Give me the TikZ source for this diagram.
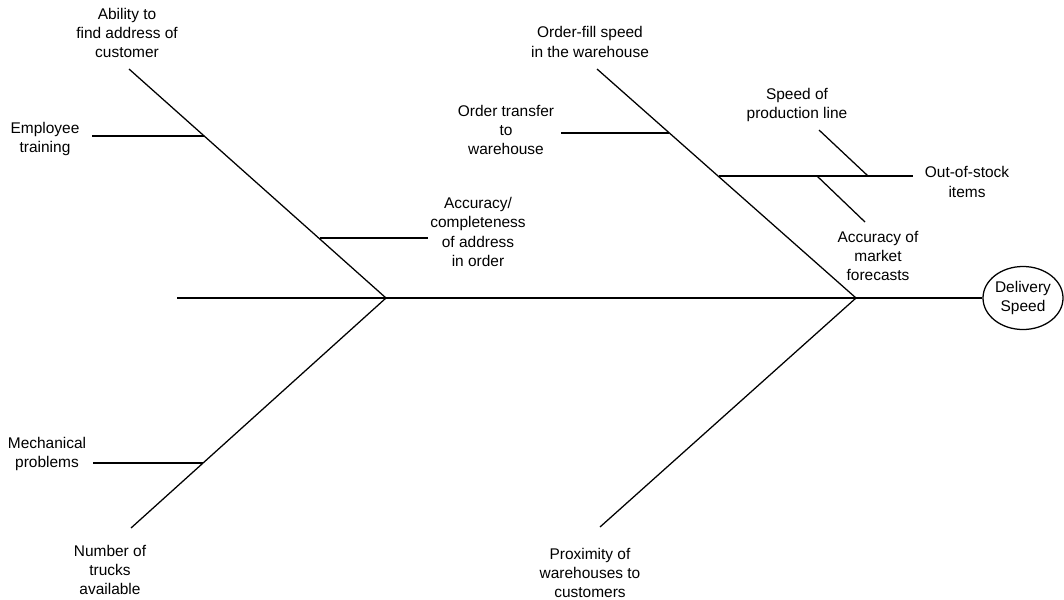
\documentclass[tikz,border=0pt]{standalone}
\usepackage{fontspec}
\setmainfont{Liberation Sans}
\usetikzlibrary{shapes.geometric}
\tikzset{
  bone/.style={line width=0.9pt},
  cause/.style={align=center,inner sep=0pt,font=\fontsize{11}{13.6}\selectfont},
  effectbox/.style={draw,ellipse,line width=0.9pt,minimum width=2cm,minimum height=1.575cm,inner sep=0pt,align=center,font=\fontsize{11}{13.6}\selectfont}
}
\begin{document}
\begin{tikzpicture}[x=0.025cm,y=-0.025cm]
\useasboundingbox (0,0) rectangle (1064,599);
% head and spine
\node[effectbox] (effect) at (1023,298) {Delivery\\Speed};
\coordinate (tail) at (177,298);
\coordinate (jl) at (386,298);
\coordinate (jr) at (856,298);
\draw[bone] (tail)--(jr)--(effect.west);
% main bones
\coordinate (ul) at (129,69);
\coordinate (ll) at (131,528);
\coordinate (ur) at (597,69);
\coordinate (lr) at (600,527);
\draw[bone] (ul)--(jl);
\draw[bone] (ll)--(jl);
\draw[bone] (ur)--(jr);
\draw[bone] (lr)--(jr);
% small bones, left side
\coordinate (emp1) at (92,136);
\coordinate (emp2) at (204,136);
\draw[bone] (emp1)--(emp2);
\coordinate (acc1) at (320,238);
\coordinate (acc2) at (428,238);
\draw[bone] (acc1)--(acc2);
\coordinate (mech1) at (93,463);
\coordinate (mech2) at (203,463);
\draw[bone] (mech1)--(mech2);
% small bones, right side
\coordinate (otr1) at (561,133);
\coordinate (otr2) at (669,133);
\draw[bone] (otr1)--(otr2);
\coordinate (oos1) at (719,176);
\coordinate (oos2) at (913,176);
\draw[bone] (oos1)--(oos2);
\coordinate (spd1) at (819,130);
\coordinate (spd2) at (868,176);
\draw[bone] (spd1)--(spd2);
\coordinate (mkt1) at (817,176);
\coordinate (mkt2) at (865,222);
\draw[bone] (mkt1)--(mkt2);
% labels
\node[cause] (ability) at (127,33) {Ability to\\find address of\\customer};
\node[cause] (training) at (45,139) {Employee\\training};
\node[cause] (address) at (478,232) {Accuracy/\\completeness\\of address\\in order};
\node[cause] (mechanical) at (47,454) {Mechanical\\problems};
\node[cause] (trucks) at (110,570) {Number of\\trucks\\available};
\node[cause] (orderfill) at (590,42) {Order-fill speed\\in the warehouse};
\node[cause] (transfer) at (506,130) {Order transfer\\to\\warehouse};
\node[cause] (production) at (797,105) {Speed of\\production line};
\node[cause] (outofstock) at (967,182) {Out-of-stock\\items};
\node[cause] (forecasts) at (878,256) {Accuracy of\\market\\forecasts};
\node[cause] (proximity) at (590,573) {Proximity of\\warehouses to\\customers};
\end{tikzpicture}
\end{document}
